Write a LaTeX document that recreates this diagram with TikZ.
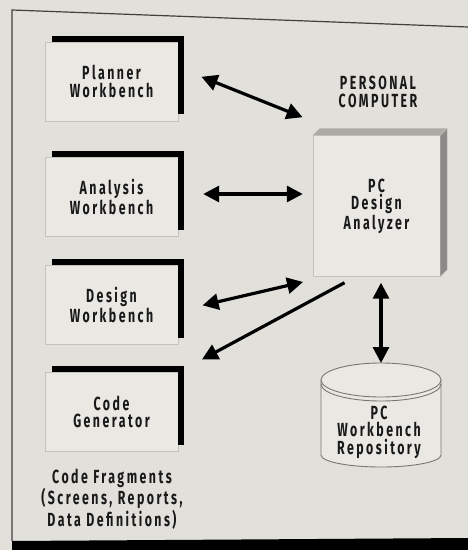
\documentclass[tikz,border=0pt]{standalone}
\usepackage{fontspec}
\newfontfamily\diagfont{Fira Sans}[FakeStretch=0.65,LetterSpace=13]
\usetikzlibrary{arrows.meta,calc}

\definecolor{paper}{RGB}{226,224,218}
\definecolor{boxface}{RGB}{234,232,227}
\definecolor{boxedge}{RGB}{196,194,189}
\definecolor{cubetop}{RGB}{172,170,165}
\definecolor{cubeside}{RGB}{140,138,134}
\definecolor{drumline}{RGB}{120,118,114}

\tikzset{
  lbl/.style={font=\diagfont\bfseries\fontsize{19}{17.5}\selectfont, align=center, text=black!90},
  wb/.style={lbl, draw=boxedge, fill=boxface, minimum width=133pt, minimum height=79pt, inner sep=0pt},
  dlink/.style={line width=3.2pt, {Triangle[length=16pt,width=16pt]}-{Triangle[length=16pt,width=16pt]}},
  slink/.style={line width=3.2pt, -{Triangle[length=16pt,width=16pt]}},
}

\begin{document}
\begin{tikzpicture}[x=1pt,y=-1pt]
        \fill[paper] (0,0) rectangle (468,550);
        \useasboundingbox (0,0) rectangle (468,550);
        \draw[line width=1.2pt, black!75] (12,541) -- (12,10) -- (468,27); % Frame.
        \fill[black] (12,541) -- (468,538) -- (468,550) -- (12,550) -- cycle; % Caption bar.

        % Workbenches.
        \node[wb] (planner) at (111.5,81.5) {Planner\\Workbench};
        \node[wb] (analysis) at (111.5,197) {Analysis\\Workbench};
        \node[wb] (design) at (111.5,305) {Design\\Workbench};
        \node[wb] (codegen) at (111.5,412) {Code\\Generator};
        \foreach \n in {planner,analysis,design,codegen} {
          \fill ($(\n.north west)+(7,-6)$) rectangle ($(\n.north east)+(6,0)$);
          \fill ($(\n.north east)+(0,-6)$) rectangle ($(\n.south east)+(6,-7)$);
        }
        \node[lbl] (frag) at (112,499) {Code Fragments\\(Screens, Reports,\\Data Definitions)};

        % Personal computer.
        \node[lbl] (pclabel) at (378,92) {PERSONAL\\COMPUTER};
        \node[wb, minimum width=127pt, minimum height=141pt] (pcda) at (376.5,206) {PC\\Design\\Analyzer};
        \filldraw[fill=cubetop, draw=boxedge] (pcda.north west) -- ++(7,-7) -- ($(pcda.north east)+(7,-7)$) -- (pcda.north east) -- cycle;
        \filldraw[fill=cubeside, draw=boxedge] (pcda.north east) -- ++(7,-7) -- ($(pcda.south east)+(7,-7)$) -- (pcda.south east) -- cycle;

        % Repository drum.
        \coordinate (drum) at (381,380);
        \filldraw[fill=boxface, draw=drumline, line width=0.9pt] ($(drum)+(-60,0)$) -- ($(drum)+(-60,75)$)
          arc[start angle=180, end angle=360, x radius=60pt, y radius=12pt] -- ($(drum)+(60,0)$) -- cycle;
        \filldraw[fill=boxface, draw=drumline, line width=0.9pt] (drum) ellipse[x radius=60pt, y radius=17pt];
        \draw[drumline, line width=0.9pt] ($(drum)+(-60,4)$) arc[start angle=180, end angle=360, x radius=60pt, y radius=17pt];
        \coordinate (drumtop) at ($(drum)+(0,-17)$);
        \node[lbl] (repo) at (379,432) {PC\\Workbench\\Repository};

        % Connectors.
        \draw[dlink, shorten <=25pt, shorten >=11pt] ($(planner.east)+(0,-14)$) -- ($(pcda.north west)+(0,-14)$);
        \draw[dlink, shorten <=25pt, shorten >=10pt] ($(analysis.east)+(0,-3)$) -- ($(analysis.east -| pcda.west)+(0,-3)$);
        \draw[dlink, shorten <=25pt, shorten >=10pt] ($(design.east)+(0,6)$) -- ($(pcda.south west)+(0,3)$);
        \draw[slink, shorten >=27pt] ($(pcda.south)+(-32,6)$) -- (codegen.north east);
        \draw[dlink, shorten <=6pt] (pcda.south -| drumtop) -- (drumtop);
\end{tikzpicture}
\end{document}
